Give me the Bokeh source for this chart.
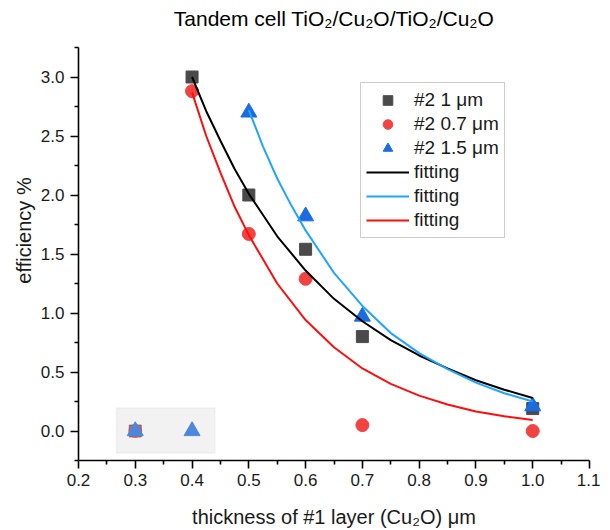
from bokeh.plotting import figure
from bokeh.models import (ColumnDataSource, FixedTicker, Legend, LegendItem,
                          BoxAnnotation, NumeralTickFormatter, Label)
from bokeh.embed import file_html
from bokeh.resources import INLINE

# ---------------- data ----------------
x_sq = [0.3, 0.4, 0.5, 0.6, 0.7, 1.0]
y_sq = [0.0, 3.0, 2.0, 1.54, 0.80, 0.19]
m_sq = [True, False, False, False, False, False]   # masked (grey box) points

x_ci = [0.3, 0.4, 0.5, 0.6, 0.7, 1.0]
y_ci = [0.0, 2.88, 1.67, 1.29, 0.05, 0.0]
m_ci = [True, False, False, False, False, False]

x_tr = [0.3, 0.4, 0.5, 0.6, 0.7, 1.0]
y_tr = [0.0, 0.0, 2.70, 1.82, 0.97, 0.21]
m_tr = [True, True, False, False, False, False]

fit_x_black = [0.40, 0.425, 0.45, 0.475, 0.50, 0.55, 0.60, 0.65, 0.70, 0.75, 0.80, 0.85, 0.90, 0.95, 1.00]
fit_y_black = [3.00, 2.71, 2.46, 2.22, 2.01, 1.65, 1.36, 1.12, 0.93, 0.77, 0.64, 0.53, 0.43, 0.35, 0.28]

fit_x_blue = [0.50, 0.525, 0.55, 0.575, 0.60, 0.65, 0.70, 0.75, 0.80, 0.85, 0.90, 0.95, 1.00]
fit_y_blue = [2.72, 2.41, 2.14, 1.91, 1.70, 1.34, 1.06, 0.83, 0.66, 0.525, 0.41, 0.32, 0.25]

fit_x_red = [0.40, 0.425, 0.45, 0.475, 0.50, 0.55, 0.60, 0.65, 0.70, 0.75, 0.80, 0.85, 0.90, 0.95, 1.00]
fit_y_red = [2.87, 2.50, 2.19, 1.90, 1.66, 1.25, 0.94, 0.71, 0.53, 0.40, 0.30, 0.225, 0.165, 0.125, 0.093]

x_ticks = [0.2, 0.3, 0.4, 0.5, 0.6, 0.7, 0.8, 0.9, 1.0, 1.1]
x_minor = [0.25, 0.35, 0.45, 0.55, 0.65, 0.75, 0.85, 0.95, 1.05]
y_ticks = [0.0, 0.5, 1.0, 1.5, 2.0, 2.5, 3.0]
y_minor = [-0.25, 0.25, 0.75, 1.25, 1.75, 2.25, 2.75, 3.25]

labels = ["#2 1 \u03bcm", "#2 0.7 \u03bcm", "#2 1.5 \u03bcm", "fitting", "fitting", "fitting"]
title_text = "Tandem cell TiO\u2082/Cu\u2082O/TiO\u2082/Cu\u2082O"

FONT = "Liberation Sans"
C_SQ = "#4a4a4a"
C_CI = "#f24343"
C_TR = "#1b6ce0"
C_BLACK = "#000000"
C_BLUE = "#1fa4ff"
C_RED = "#ff0d0d"

# layout: visible axes box is 511 x 413 px, starting 47 px below the top
X0, X1 = 0.2, 1.1
Y0, Y1 = -0.25, 3.25
BOX_W, BOX_H, TOP_GAP = 511, 413, 47
px_per_unit = BOX_H / (Y1 - Y0)
Y_TOP = Y1 + TOP_GAP / px_per_unit          # extend range so the title fits in the frame

p = figure(width=600, height=528, x_range=(X0, X1), y_range=(Y0, Y_TOP),
           output_backend="svg", toolbar_location=None,
           frame_width=BOX_W, frame_height=BOX_H + TOP_GAP,
           min_border_left=78, min_border_right=11, min_border_top=0,
           min_border_bottom=68)
p.outline_line_color = None
p.xgrid.visible = False
p.ygrid.visible = False
p.background_fill_color = "white"
p.border_fill_color = "white"

# title (baseline ~29 px above the top of the axis)
p.add_layout(Label(x=(X0 + X1) / 2, y=Y1 + 29 / px_per_unit,
                   text=title_text, text_font=FONT, text_font_size="21px",
                   text_color="black", text_align="center",
                   text_baseline="alphabetic"))

p.xaxis.ticker = FixedTicker(ticks=x_ticks, minor_ticks=x_minor)
p.yaxis.ticker = FixedTicker(ticks=y_ticks, minor_ticks=y_minor)
p.yaxis.bounds = (Y0, Y1)
p.xaxis.formatter = NumeralTickFormatter(format="0.0")
p.yaxis.formatter = NumeralTickFormatter(format="0.0")
p.xaxis.axis_label = "thickness of #1 layer (Cu\u2082O) \u03bcm"
p.yaxis.axis_label = "efficiency %"
for ax in (p.xaxis, p.yaxis):
    ax.axis_line_width = 1.6
    ax.axis_line_color = "black"
    ax.major_tick_line_width = 1.6
    ax.minor_tick_line_width = 1.6
    ax.major_tick_line_color = "black"
    ax.minor_tick_line_color = "black"
    ax.major_tick_out = 8
    ax.major_tick_in = 0
    ax.minor_tick_out = 4
    ax.minor_tick_in = 0
    ax.major_label_text_font = FONT
    ax.major_label_text_font_size = "17px"
    ax.major_label_text_color = "#1a1a1a"
    ax.axis_label_text_font = FONT
    ax.axis_label_text_font_size = "20px"
    ax.axis_label_text_font_style = "normal"
    ax.axis_label_text_color = "#1a1a1a"
p.xaxis.major_label_standoff = 5
p.xaxis.axis_label_standoff = 17
p.yaxis.major_label_standoff = 6
p.yaxis.axis_label_standoff = 3

# grey box around masked points
p.add_layout(BoxAnnotation(left=0.267, right=0.44, bottom=-0.186, top=0.195,
                           fill_color="#f2f2f2", fill_alpha=1.0,
                           line_color="#d6d6d6", line_width=1.5, level="underlay"))

def split(xs, ys, ms, masked):
    return ColumnDataSource(dict(x=[x for x, y, m in zip(xs, ys, ms) if m == masked],
                                 y=[y for x, y, m in zip(xs, ys, ms) if m == masked]))

# masked (faded) points
p.scatter("x", "y", source=split(x_sq, y_sq, m_sq, True), marker="square", size=12,
          fill_color=C_SQ, line_color=C_SQ, alpha=0.6)
p.scatter("x", "y", source=split(x_ci, y_ci, m_ci, True), marker="circle", size=13,
          fill_color=C_CI, line_color=C_CI, alpha=0.6)
p.scatter("x", "y", source=split(x_tr, y_tr, m_tr, True), marker="triangle", size=16,
          fill_color="#4a88de", line_color="#4a88de", alpha=1.0)

r_sq = p.scatter("x", "y", source=split(x_sq, y_sq, m_sq, False), marker="square", size=12,
                 fill_color=C_SQ, line_color=C_SQ)
r_ci = p.scatter("x", "y", source=split(x_ci, y_ci, m_ci, False), marker="circle", size=13,
                 fill_color=C_CI, line_color=C_CI)
r_tr = p.scatter("x", "y", source=split(x_tr, y_tr, m_tr, False), marker="triangle", size=16,
                 fill_color=C_TR, line_color=C_TR)

r_bk = p.line(fit_x_black, fit_y_black, line_color=C_BLACK, line_width=2)
r_bl = p.line(fit_x_blue, fit_y_blue, line_color=C_BLUE, line_width=2)
r_rd = p.line(fit_x_red, fit_y_red, line_color=C_RED, line_width=2)

legend = Legend(items=[LegendItem(label=l, renderers=[r])
                       for l, r in zip(labels, [r_sq, r_ci, r_tr, r_bk, r_bl, r_rd])],
                location=(282, 222))
legend.label_text_font = FONT
legend.label_text_font_size = "19px"
legend.label_text_color = "#1a1a1a"
legend.glyph_width = 43
legend.glyph_height = 24
legend.label_height = 24
legend.label_standoff = 5
legend.spacing = 0
legend.padding = 5
legend.margin = 0
legend.border_line_color = "#9a9a9a"
legend.border_line_width = 1.5
legend.background_fill_color = "white"
legend.background_fill_alpha = 1.0
p.add_layout(legend)

open("out.html", "w").write(file_html(p, INLINE))
